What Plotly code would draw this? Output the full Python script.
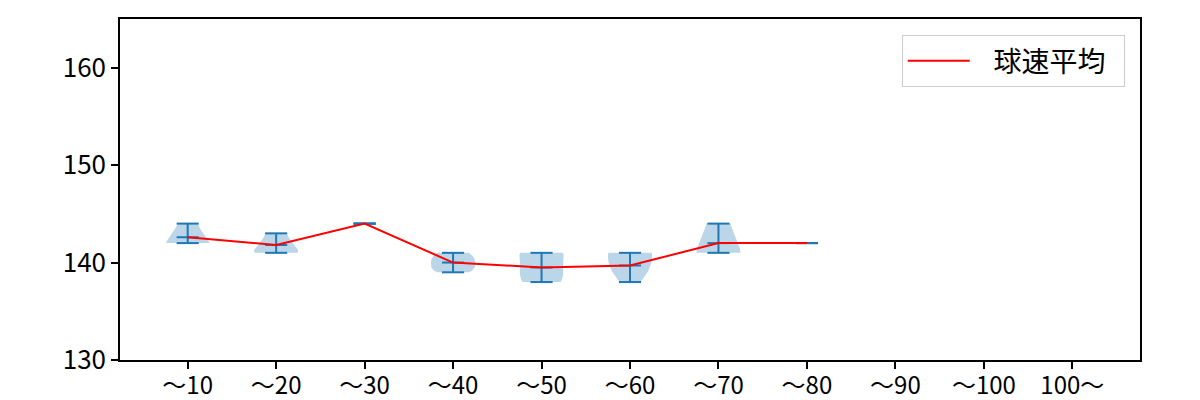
import plotly.graph_objects as go

# ---- data ----
categories = ["〜10", "〜20", "〜30", "〜40", "〜50", "〜60", "〜70", "〜80", "〜90", "〜100", "100〜"]
max_vals = [144, 143, 144, 141, 141, 141, 144, 142, None, None, None]
min_vals = [142, 141, 144, 139, 138, 138, 141, 142, None, None, None]
mean_vals = [142.6, 141.8, 144.0, 140.0, 139.5, 139.7, 142.0, 142.0, None, None, None]

# relative density profiles (value levels, relative density 0..1) per category
dens_levels = [
    [142, 142.5, 143, 143.5, 144],
    [141, 141.3, 141.7, 142.2, 142.6, 143],
    [],
    [139, 139.2, 139.5, 140, 140.4, 140.7, 141],
    [138, 138.3, 138.8, 139.5, 140.2, 140.7, 141],
    [138, 138.6, 139.1, 140.0, 140.65, 141],
    [141, 141.5, 142, 142.5, 143, 143.5, 144],
    [], [], [], [],
]
dens_values = [
    [1.0, 0.85, 0.7, 0.56, 0.45],
    [0.98, 1.0, 0.85, 0.68, 0.56, 0.48],
    [],
    [0.72, 0.88, 0.98, 1.0, 0.97, 0.88, 0.72],
    [0.86, 0.93, 0.98, 0.97, 0.98, 1.0, 0.97],
    [0.48, 0.68, 0.82, 0.97, 1.0, 0.98],
    [1.0, 0.96, 0.87, 0.78, 0.7, 0.62, 0.53],
    [], [], [], [],
]

positions = list(range(1, len(categories) + 1))
HALF_W = 0.25      # violin half width (matplotlib widths=0.5)
CAP = 0.125        # cap line half length

BLUE = "#1f77b4"
fig = go.Figure()

# violin bodies
for pos, lv, dv in zip(positions, dens_levels, dens_values):
    if not lv:
        continue
    xs = [pos + HALF_W * d for d in dv] + [pos - HALF_W * d for d in reversed(dv)]
    ys = list(lv) + list(reversed(lv))
    fig.add_trace(go.Scatter(
        x=xs, y=ys, mode="lines", fill="toself",
        fillcolor="rgba(31,119,180,0.3)", line=dict(width=0),
        showlegend=False, hoverinfo="skip"))

# extrema, bars and mean caps
lx, ly = [], []
for pos, mx, mn, mu in zip(positions, max_vals, min_vals, mean_vals):
    if mx is None:
        continue
    for v in (mx, mn, mu):
        lx += [pos - CAP, pos + CAP, None]
        ly += [v, v, None]
    lx += [pos, pos, None]
    ly += [mn, mx, None]
fig.add_trace(go.Scatter(x=lx, y=ly, mode="lines", line=dict(color=BLUE, width=2),
                         showlegend=False, hoverinfo="skip"))

# mean line
fig.add_trace(go.Scatter(x=positions, y=mean_vals, mode="lines",
                         line=dict(color="red", width=2),
                         name="\u00a0\u00a0\u00a0球速平均\u00a0\u00a0"))

# page body has an 8px margin, so the figure is shrunk by 8px to keep the plot area in place
fig.update_layout(
    width=1192, height=392,
    margin=dict(l=112, r=60, t=11, b=40),
    paper_bgcolor="white", plot_bgcolor="white",
    font=dict(family="Noto Sans CJK JP", size=26, color="black"),
    legend=dict(
        x=0.985, y=0.953, xanchor="right", yanchor="top",
        bordercolor="#cccccc", borderwidth=1, bgcolor="rgba(255,255,255,0.8)",
        font=dict(size=28), itemwidth=62,
    ),
)
fig.update_xaxes(
    range=[0.235, 11.765], tickmode="array", tickvals=positions, ticktext=categories,
    showline=True, linecolor="black", linewidth=1.5, mirror=True,
    ticks="outside", ticklen=7, tickwidth=1.5, tickcolor="black",
    tickfont=dict(size=24), ticklabelstandoff=-4,
    showgrid=False, zeroline=False, automargin=False,
)
fig.update_yaxes(
    range=[130, 165], tickmode="array", tickvals=[130, 140, 150, 160],
    showline=True, linecolor="black", linewidth=1.5, mirror=True,
    ticks="outside", ticklen=7, tickwidth=1.5, tickcolor="black",
    showgrid=False, zeroline=False, automargin=False,
)

fig.write_html("out.html")
